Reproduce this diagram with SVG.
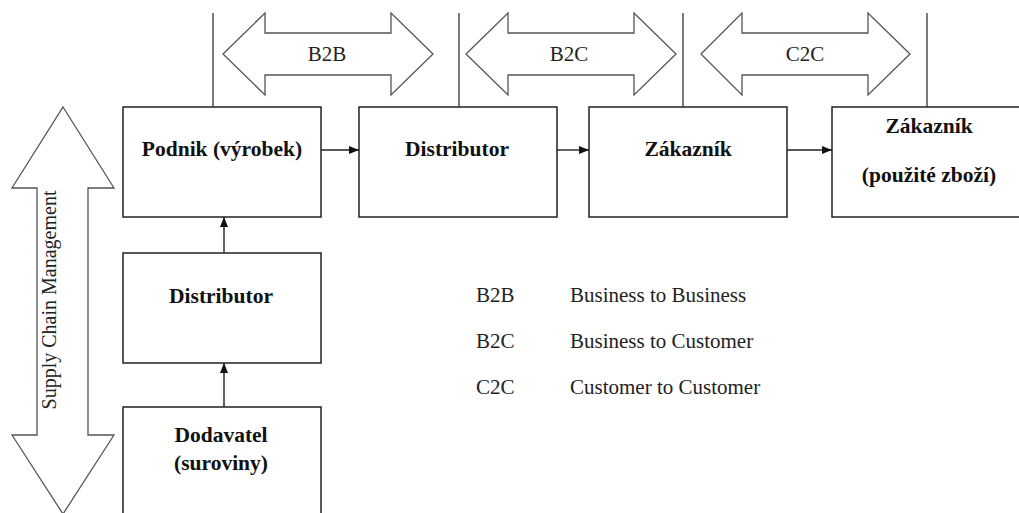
<svg xmlns="http://www.w3.org/2000/svg" width="1019" height="513" viewBox="0 0 1019 513">
<defs>
<style>
.box{fill:#fff;stroke:#222;stroke-width:1.5}
.big{fill:#fff;stroke:#555;stroke-width:1.3;stroke-linejoin:miter}
.sep{stroke:#333;stroke-width:1.3}
.con{stroke:#222;stroke-width:1.4;fill:none}
.bt{font-family:"Liberation Serif",serif;font-weight:bold;font-size:21.5px;fill:#111;text-anchor:middle}
.rt{font-family:"Liberation Serif",serif;font-size:21px;fill:#222}
.scm{font-family:"Liberation Serif",serif;font-size:20px;fill:#222}
</style>
<marker id="ah" viewBox="0 0 10 10" refX="10" refY="5" markerWidth="10" markerHeight="10" markerUnits="userSpaceOnUse" orient="auto">
<path d="M0,1 L10,5 L0,9 Z" fill="#111"/>
</marker>
</defs>
<rect width="1019" height="513" fill="#fff"/>

<g id="separators">
<line class="sep" x1="213" y1="13" x2="213" y2="107"/>
<line class="sep" x1="459" y1="13" x2="459" y2="107"/>
<line class="sep" x1="683" y1="13" x2="683" y2="107"/>
<line class="sep" x1="927" y1="13" x2="927" y2="107"/>
</g>

<g id="arrow-b2b">
<path class="big" d="M223,54 L265,13 L265,33 L391,33 L391,13 L433,54 L391,95 L391,75 L265,75 L265,95 Z"/>
<text class="rt" x="327" y="61" text-anchor="middle">B2B</text>
</g>
<g id="arrow-b2c">
<path class="big" d="M466,54 L508,13 L508,33 L634,33 L634,13 L676,54 L634,95 L634,75 L508,75 L508,95 Z"/>
<text class="rt" x="569" y="61" text-anchor="middle">B2C</text>
</g>
<g id="arrow-c2c">
<path class="big" d="M701,54 L742,13 L742,33 L868,33 L868,13 L910,54 L868,95 L868,75 L742,75 L742,95 Z"/>
<text class="rt" x="805" y="61" text-anchor="middle">C2C</text>
</g>

<g id="arrow-scm">
<path class="big" d="M63,107 L114,188 L88,188 L88,435 L114,435 L63,514 L12,435 L37,435 L37,188 L12,188 Z"/>
<text class="scm" transform="translate(56,300) rotate(-90)" text-anchor="middle">Supply Chain Management</text>
</g>

<g id="node-podnik">
<rect class="box" x="123" y="107" width="198" height="110"/>
<text class="bt" x="222" y="156">Podnik (výrobek)</text>
</g>
<g id="node-distributor">
<rect class="box" x="359" y="107" width="198" height="110"/>
<text class="bt" x="457" y="156">Distributor</text>
</g>
<g id="node-zakaznik">
<rect class="box" x="589" y="107" width="198" height="110"/>
<text class="bt" x="688" y="156">Zákazník</text>
</g>
<g id="node-zakaznik-pouzite">
<rect class="box" x="832" y="107" width="200" height="110"/>
<text class="bt" x="929" y="133">Zákazník</text>
<text class="bt" x="929" y="182">(použité zboží)</text>
</g>
<g id="node-distributor2">
<rect class="box" x="123" y="253" width="198" height="110"/>
<text class="bt" x="221" y="303">Distributor</text>
</g>
<g id="node-dodavatel">
<rect class="box" x="123" y="407" width="198" height="120"/>
<text class="bt" x="221" y="442">Dodavatel</text>
<text class="bt" x="221" y="470">(suroviny)</text>
</g>

<g id="connectors">
<line class="con" x1="321" y1="150" x2="359" y2="150" marker-end="url(#ah)"/>
<line class="con" x1="557" y1="150" x2="589" y2="150" marker-end="url(#ah)"/>
<line class="con" x1="787" y1="150" x2="832" y2="150" marker-end="url(#ah)"/>
<line class="con" x1="224" y1="253" x2="224" y2="217" marker-end="url(#ah)"/>
<line class="con" x1="224" y1="407" x2="224" y2="363" marker-end="url(#ah)"/>
</g>

<g id="legend">
<text class="rt" x="476" y="302">B2B</text>
<text class="rt" x="570" y="302">Business to Business</text>
<text class="rt" x="476" y="348">B2C</text>
<text class="rt" x="570" y="348">Business to Customer</text>
<text class="rt" x="476" y="394">C2C</text>
<text class="rt" x="570" y="394">Customer to Customer</text>
</g>
</svg>
